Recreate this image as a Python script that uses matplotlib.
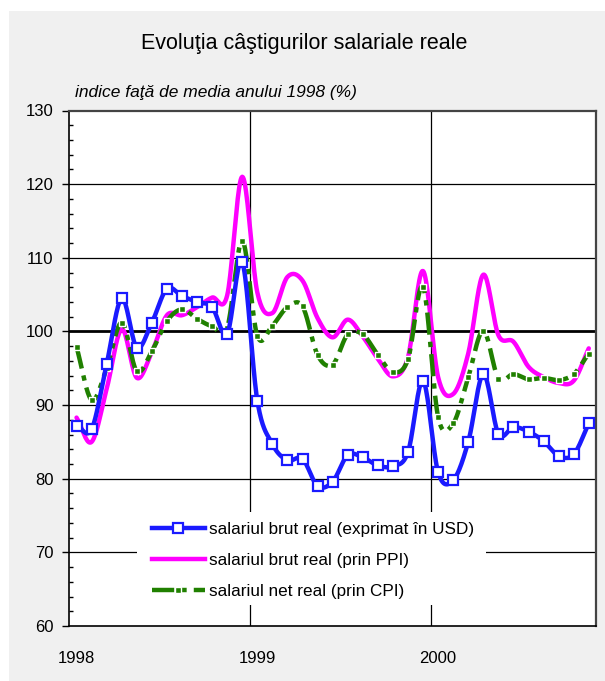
import numpy as np
import matplotlib
matplotlib.use("Agg")
import matplotlib.pyplot as plt
from matplotlib.patches import Rectangle
from matplotlib.lines import Line2D

plt.rcParams['font.family'] = ['Liberation Sans', 'DejaVu Sans']

title = "Evoluţia câştigurilor salariale reale"
subtitle = "indice faţă de media anului 1998 (%)"
year_labels = ["1998", "1999", "2000"]
series_names = ["salariul brut real (exprimat în USD)",
                "salariul brut real (prin PPI)",
                "salariul net real (prin CPI)"]

# monthly values, Jan 1998 .. Nov 2000
brut_usd = [87.2, 86.7, 95.6, 104.5, 97.8, 101.2, 105.8, 104.8, 104.0, 103.3, 99.7, 109.4,
            90.6, 84.7, 82.5, 82.7, 79.0, 79.6, 83.2, 82.9, 81.8, 81.7, 83.6, 93.3,
            80.9, 79.8, 85.0, 94.2, 86.1, 87.0, 86.4, 85.1, 83.1, 83.3, 87.5]
brut_ppi = [88.3, 85.0, 92.2, 100.3, 93.7, 97.2, 102.2, 102.2, 103.3, 104.6, 104.9, 121.0,
            105.3, 102.5, 107.4, 106.9, 101.8, 99.2, 101.6, 99.3, 96.3, 93.9, 96.5, 108.2,
            93.8, 91.5, 97.0, 107.7, 99.5, 98.6, 95.2, 93.8, 93.0, 93.3, 97.7]
net_cpi = [97.9, 90.7, 95.0, 101.2, 94.6, 97.3, 101.4, 103.0, 101.7, 100.7, 100.5, 112.3,
           99.4, 100.8, 103.3, 103.4, 96.8, 95.5, 99.6, 99.6, 96.8, 94.5, 96.2, 106.0,
           88.4, 87.5, 93.8, 100.1, 93.6, 94.2, 93.5, 93.7, 93.4, 94.2, 97.0]

def smooth(x, y, n=20):
    x = np.asarray(x, float); y = np.asarray(y, float)
    px = np.concatenate([[2*x[0]-x[1]], x, [2*x[-1]-x[-2]]])
    py = np.concatenate([[2*y[0]-y[1]], y, [2*y[-1]-y[-2]]])
    xs, ys = [], []
    t = np.linspace(0, 1, n, endpoint=False)
    for i in range(1, len(px)-2):
        for P, out in ((px, xs), (py, ys)):
            p0, p1, p2, p3 = P[i-1], P[i], P[i+1], P[i+2]
            out.extend(0.5*((2*p1) + (-p0+p2)*t + (2*p0-5*p1+4*p2-p3)*t**2 + (-p0+3*p1-3*p2+p3)*t**3))
    xs.append(x[-1]); ys.append(y[-1])
    return np.array(xs), np.array(ys)

W, H = 605, 681
AX_L, AX_R, AX_T, AX_B = 69, 596.3, 110.5, 626
fig = plt.figure(figsize=(W/100, H/100), dpi=100)
fig.patch.set_facecolor('white')
fig.add_artist(Rectangle((9/W, 0), 1-9/W, (H-11)/H, transform=fig.transFigure,
                         facecolor='#f0f0f0', edgecolor='none', zorder=0))

ax = fig.add_axes([AX_L/W, (H-AX_B)/H, (AX_R-AX_L)/W, (AX_B-AX_T)/H])
ax.set_facecolor('white')

def axx(px):
    return (px-AX_L)/(AX_R-AX_L)

def axy(py):
    return (AX_B-py)/(AX_B-AX_T)

x = np.arange(len(brut_usd)) + 0.5

BLUE = '#1a1aff'
MAG = '#ff00ff'
GREEN = '#208000'

for v in [70, 80, 90, 110, 120]:
    ax.axhline(v, color='black', lw=0.9, zorder=1)
ax.axhline(100, color='black', lw=2.0, zorder=1)
for v in [12, 24]:
    ax.axvline(v, color='black', lw=0.9, zorder=1)

sx, sy = smooth(x, brut_ppi)
ax.plot(sx, sy, color=MAG, lw=3.2, zorder=2, solid_capstyle='round')

sx, sy = smooth(x, net_cpi)
ax.plot(sx, sy, color=GREEN, lw=3.2, zorder=3, dashes=(5, 1.6, 1.2, 1.6))
ax.plot(x, net_cpi, ls='none', marker='s', ms=4.5, mfc=GREEN, mec='white', mew=1.0, zorder=3.5)

sx, sy = smooth(x, brut_usd)
ax.plot(sx, sy, color=BLUE, lw=3.2, zorder=4)
ax.plot(x, brut_usd, ls='none', marker='s', ms=6.5, mfc='white', mec=BLUE, mew=1.6, zorder=4.5)

ax.set_xlim(0, 35)
ax.set_ylim(60, 130)
ax.set_yticks(np.arange(60, 131, 10))
ax.set_yticks(np.arange(60, 131, 2), minor=True)
ax.tick_params(axis='y', which='major', direction='out', length=5, width=1, labelsize=12, pad=6)
ax.tick_params(axis='y', which='minor', direction='in', length=3, width=1)
ax.set_xticks([0.5, 12.5, 24.5])
ax.set_xticklabels(year_labels)
ax.tick_params(axis='x', length=0, labelsize=12, pad=18)

for s in ['left', 'bottom']:
    ax.spines[s].set_color('black'); ax.spines[s].set_linewidth(1.2)
for s in ['top', 'right']:
    ax.spines[s].set_color('#444444'); ax.spines[s].set_linewidth(1.6)

# white legend area hiding gridlines
ax.add_patch(Rectangle((axx(137), axy(605)), axx(486)-axx(137), axy(512)-axy(605),
                       transform=ax.transAxes, facecolor='white', edgecolor='none', zorder=5))

handles = [
    Line2D([], [], color=BLUE, lw=3.2, marker='s', ms=6.5, mfc='white', mec=BLUE, mew=1.6),
    Line2D([], [], color=MAG, lw=3.2),
    Line2D([], [], color=GREEN, lw=3.2, dashes=(5, 1.6, 1.2, 1.6), marker='s', ms=4.5,
           mfc=GREEN, mec='white', mew=1.0),
]
leg = ax.legend(handles, series_names, loc='upper left',
                bbox_to_anchor=(axx(152), axy(522)),
                frameon=False, fontsize=12.3, handlelength=3.1,
                handletextpad=0.25, labelspacing=0.93, borderpad=0, borderaxespad=0,
                numpoints=1)
leg.set_zorder(10)

fig.text(304/W, 1-43/H, title, ha='center', va='center', fontsize=15.5)
fig.text(75/W, 1-93/H, subtitle, ha='left', va='center', fontsize=12.5, style='italic')

fig.savefig('out.png', dpi=100, facecolor=fig.get_facecolor())
